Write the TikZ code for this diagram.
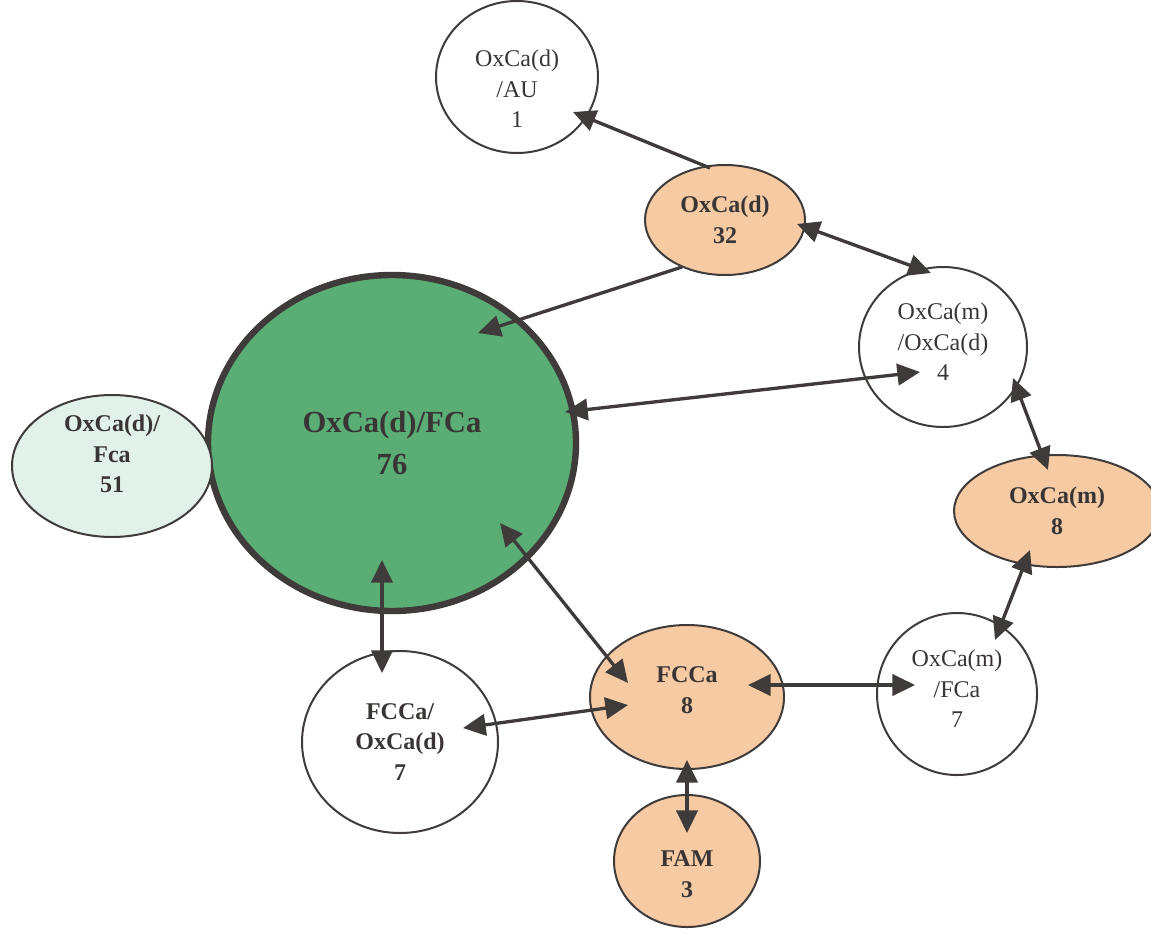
\documentclass[tikz,border=0pt]{standalone}
\usepackage{fontspec}
\setmainfont{Liberation Serif}
\usetikzlibrary{shapes.geometric,arrows.meta}

\definecolor{edgegray}{HTML}{403B3B}
\definecolor{txtgray}{HTML}{3A3535}
\definecolor{peach}{HTML}{F6CBA4}
\definecolor{leaf}{HTML}{5AAD74}
\definecolor{mint}{HTML}{E2F1EA}

\tikzset{
  ell/.style 2 args={ellipse, draw=edgegray, line width=1.5pt, inner sep=0pt,
    minimum width=#1*1.5pt, minimum height=#2*1.5pt},
  txt/.style={align=center, text=txtgray, font=\fontsize{18}{23}\selectfont},
  btxt/.style={txt, font=\fontsize{18}{23}\selectfont\bfseries},
  tip/.tip={Triangle[length=17pt,width=16pt]},
  arr/.style={draw=edgegray, line width=2.5pt, -tip},
  dbl/.style={draw=edgegray, line width=2.5pt, tip-tip},
}

\begin{document}
\begin{tikzpicture}[x=0.75pt, y=-0.75pt]
\clip (0,0) rectangle (1151,932);

% states
\node[ell={81}{76}, label={[txt, yshift=-9pt]center:{OxCa(d)\\/AU\\1}}] (au) at (517,77) {};
\node[ell={80}{55}, fill=peach, btxt] (n32) at (725,220) {OxCa(d)\\32};
\node[ell={84}{80}, label={[txt, yshift=4pt]center:{OxCa(m)\\/OxCa(d)\\4}}] (n4) at (943,347) {};
\node[ell={184}{168}, fill=leaf, line width=4.8pt, btxt,
      font=\fontsize{23}{31}\selectfont\bfseries] (big) at (392,443) {OxCa(d)/FCa\\76};
\node[ell={100}{71}, fill=mint, label={[btxt, yshift=9pt]center:{OxCa(d)/\\Fca\\51}}] (n51) at (112,466) {};
\node[ell={103}{56}, fill=peach, btxt] (m8) at (1057,511) {OxCa(m)\\8};
\node[ell={80}{81}, label={[txt, yshift=4pt]center:{OxCa(m)\\/FCa\\7}}] (m7) at (957,694) {};
\node[ell={97}{72}, fill=peach, label={[btxt, yshift=5pt]center:{FCCa\\8}}] (fc8) at (687,697) {};
\node[ell={98}{91}, btxt] (fco7) at (400,742) {FCCa/\\OxCa(d)\\7};
\node[ell={73}{66}, fill=peach, label={[btxt, yshift=-10pt]center:{FAM\\3}}] (fam) at (687,861) {};

% transitions
\draw[arr] ([shift={(-15,-52)}]n32.center) -- ([shift={(56,35)}]au.center);
\draw[arr] ([shift={(-43,47)}]n32.center) -- ([shift={(86,-110)}]big.center);
\draw[dbl] ([shift={(72,4)}]n32.center) -- ([shift={(-12,-74)}]n4.center);
\draw[dbl] ([shift={(173,-31)}]big.center) -- ([shift={(-23,25)}]n4.center);
\draw[dbl] ([shift={(70,31)}]n4.center) -- ([shift={(-9,-41)}]m8.center);
\draw[dbl] ([shift={(-27,39)}]m8.center) -- ([shift={(38,-54)}]m7.center);
\draw[dbl] ([shift={(61,-12)}]fc8.center) -- ([shift={(-42,-9)}]m7.center);
\draw[dbl] ([shift={(108,80)}]big.center) -- ([shift={(-59,-14)}]fc8.center);
\draw[dbl] ([shift={(-10,117)}]big.center) -- ([shift={(-18,-69)}]fco7.center);
\draw[dbl] ([shift={(63,-14)}]fco7.center) -- ([shift={(-59,8)}]fc8.center);
\draw[dbl] ([shift={(0,63)}]fc8.center) -- ([shift={(0,-28)}]fam.center);
\end{tikzpicture}
\end{document}
